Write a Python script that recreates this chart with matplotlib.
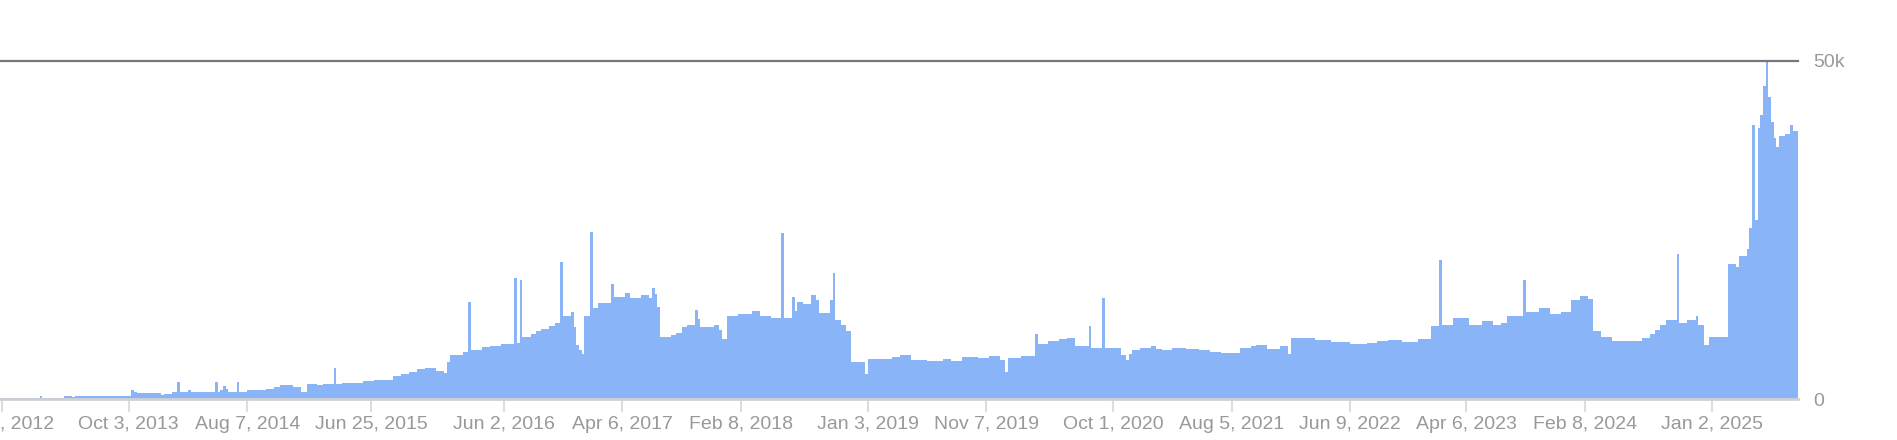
import matplotlib
matplotlib.use('Agg')

from matplotlib import pyplot as plt
import numpy as np
import pandas as pd

plt.rcParams['font.family'] = ['Liberation Sans', 'DejaVu Sans']

# weekly values (thousands), each entry holds until the next date
week_start = [
    '2012-10-04', '2013-02-14', '2013-02-21', '2013-04-18', '2013-05-09', '2013-05-16',
    '2013-05-23', '2013-10-10', '2013-10-17', '2013-10-24', '2013-12-26', '2014-01-02',
    '2014-01-23', '2014-02-06', '2014-02-13', '2014-03-06', '2014-03-13', '2014-05-15',
    '2014-05-22', '2014-05-29', '2014-06-05', '2014-06-12', '2014-06-19', '2014-07-10',
    '2014-07-17', '2014-08-07', '2014-09-25', '2014-10-16', '2014-10-30', '2014-12-04',
    '2014-12-25', '2015-01-08', '2015-02-05', '2015-02-19', '2015-03-19', '2015-03-26',
    '2015-04-09', '2015-05-07', '2015-06-04', '2015-07-02', '2015-08-20', '2015-09-10',
    '2015-10-01', '2015-10-22', '2015-11-12', '2015-12-10', '2015-12-31', '2016-01-07',
    '2016-01-14', '2016-02-18', '2016-03-03', '2016-03-10', '2016-04-07', '2016-04-28',
    '2016-05-26', '2016-06-30', '2016-07-07', '2016-07-14', '2016-07-21', '2016-08-11',
    '2016-08-25', '2016-09-08', '2016-09-29', '2016-10-13', '2016-10-27', '2016-11-03',
    '2016-11-24', '2016-12-01', '2016-12-08', '2016-12-15', '2016-12-22', '2016-12-29',
    '2017-01-12', '2017-01-19', '2017-02-02', '2017-03-09', '2017-03-16', '2017-04-13',
    '2017-04-27', '2017-05-25', '2017-06-15', '2017-06-22', '2017-06-29', '2017-07-06',
    '2017-07-13', '2017-08-10', '2017-08-24', '2017-09-07', '2017-09-21', '2017-10-12',
    '2017-10-19', '2017-10-26', '2017-11-30', '2017-12-14', '2017-12-21', '2018-01-04',
    '2018-02-01', '2018-03-08', '2018-03-29', '2018-04-26', '2018-05-24', '2018-05-31',
    '2018-06-21', '2018-06-28', '2018-07-05', '2018-07-19', '2018-08-09', '2018-08-23',
    '2018-08-30', '2018-09-27', '2018-10-04', '2018-10-11', '2018-10-25', '2018-11-08',
    '2018-11-22', '2018-12-27', '2019-01-03', '2019-03-07', '2019-03-28', '2019-04-25',
    '2019-06-06', '2019-07-18', '2019-08-08', '2019-09-05', '2019-10-17', '2019-11-14',
    '2019-12-12', '2019-12-26', '2020-01-02', '2020-02-06', '2020-03-12', '2020-03-19',
    '2020-04-16', '2020-05-14', '2020-06-04', '2020-06-25', '2020-07-30', '2020-08-06',
    '2020-09-03', '2020-09-10', '2020-10-22', '2020-11-05', '2020-11-12', '2020-11-19',
    '2020-12-10', '2021-01-07', '2021-01-21', '2021-02-04', '2021-03-04', '2021-04-08',
    '2021-05-13', '2021-06-10', '2021-07-08', '2021-08-26', '2021-09-23', '2021-10-07',
    '2021-11-04', '2021-12-09', '2021-12-30', '2022-01-06', '2022-03-10', '2022-04-21',
    '2022-06-09', '2022-07-21', '2022-08-18', '2022-09-15', '2022-10-20', '2022-12-01',
    '2023-01-05', '2023-01-26', '2023-02-02', '2023-03-02', '2023-04-13', '2023-05-18',
    '2023-06-15', '2023-07-06', '2023-07-20', '2023-08-31', '2023-09-07', '2023-10-12',
    '2023-11-09', '2023-12-07', '2024-01-04', '2024-01-25', '2024-02-15', '2024-02-29',
    '2024-03-21', '2024-04-18', '2024-07-04', '2024-07-25', '2024-08-08', '2024-08-22',
    '2024-09-05', '2024-10-03', '2024-10-10', '2024-10-31', '2024-11-21', '2024-11-28',
    '2024-12-12', '2024-12-26', '2025-02-13', '2025-03-06', '2025-03-13', '2025-04-03',
    '2025-04-10', '2025-04-17', '2025-04-24', '2025-05-01', '2025-05-08', '2025-05-15',
    '2025-05-22', '2025-05-29', '2025-06-05', '2025-06-12', '2025-06-19', '2025-06-26',
    '2025-07-10', '2025-07-24', '2025-07-31', '2025-08-07',
]
users_k = [
    0.15, 0.45, 0.15, 0.45, 0.25, 0.45,
    0.5, 1.3, 1.0, 0.85, 0.6, 0.75,
    1.0, 2.5, 1.0, 1.3, 1.0, 2.5,
    1.0, 1.4, 1.9, 1.5, 1.1, 2.5,
    1.1, 1.3, 1.5, 1.8, 2.0, 1.8,
    1.1, 2.2, 2.0, 2.2, 4.6, 2.2,
    2.3, 2.4, 2.6, 2.8, 3.4, 3.7,
    4.0, 4.5, 4.6, 4.2, 3.9, 5.5,
    6.5, 7.0, 14.3, 7.2, 7.7, 7.9,
    8.1, 17.9, 8.3, 17.6, 9.2, 9.6,
    10.0, 10.4, 10.8, 11.2, 20.3, 12.2,
    12.9, 10.7, 8.0, 7.3, 6.7, 12.2,
    24.7, 13.5, 14.2, 17.0, 15.1, 15.6,
    15.0, 15.4, 14.9, 16.4, 15.5, 13.6,
    9.1, 9.5, 9.8, 10.6, 11.0, 13.2,
    11.8, 10.7, 10.9, 10.2, 8.8, 12.2,
    12.6, 13.0, 12.3, 12.0, 24.6, 12.0,
    15.1, 13.0, 14.4, 14.1, 15.4, 14.6,
    12.7, 14.6, 18.6, 11.7, 11.0, 10.0,
    5.5, 3.7, 5.9, 6.2, 6.5, 5.8,
    5.6, 5.9, 5.6, 6.2, 6.0, 6.3,
    5.8, 4.0, 6.0, 6.3, 9.6, 8.2,
    8.5, 8.8, 9.0, 7.8, 10.8, 7.5,
    14.9, 7.5, 6.5, 5.8, 6.6, 7.3,
    7.6, 7.8, 7.4, 7.2, 7.6, 7.4,
    7.2, 7.0, 6.8, 7.5, 7.8, 8.0,
    7.4, 7.8, 6.7, 9.0, 8.7, 8.4,
    8.1, 8.3, 8.6, 8.7, 8.4, 8.9,
    10.8, 20.5, 10.9, 11.9, 10.9, 11.5,
    11.0, 11.2, 12.3, 17.6, 12.9, 13.4,
    12.5, 12.9, 14.6, 15.2, 14.8, 10.0,
    9.2, 8.6, 9.0, 9.6, 10.2, 11.0,
    11.7, 21.4, 11.2, 11.7, 12.2, 11.0,
    8.0, 9.2, 19.9, 19.5, 21.1, 22.1,
    25.3, 40.5, 26.5, 40.0, 42.0, 46.2,
    50.0, 44.7, 41.0, 38.6, 37.3, 38.9,
    39.1, 40.5, 39.6, 39.6,
]

tick_dates = ['2012-11-08', '2013-10-03', '2014-08-07', '2015-06-25', '2016-06-02',
              '2017-04-06', '2018-02-08', '2019-01-03', '2019-11-07', '2020-10-01',
              '2021-08-05', '2022-06-09', '2023-04-06', '2024-02-08', '2025-01-02']
tick_labels = ['Nov 8, 2012', 'Oct 3, 2013', 'Aug 7, 2014', 'Jun 25, 2015', 'Jun 2, 2016',
               'Apr 6, 2017', 'Feb 8, 2018', 'Jan 3, 2019', 'Nov 7, 2019', 'Oct 1, 2020',
               'Aug 5, 2021', 'Jun 9, 2022', 'Apr 6, 2023', 'Feb 8, 2024', 'Jan 2, 2025']

y_ticks = [0, 50000]
y_labels = ['0', '50k']

assert len(week_start) == len(users_k)

dates = pd.to_datetime(week_start)
vals = np.array(users_k) * 1000
# close the last week
edges = dates.append(pd.DatetimeIndex([dates[-1] + pd.Timedelta(days=7)]))
vals_e = np.append(vals, vals[-1])

fig = plt.figure(figsize=(18.97, 4.40), dpi=100)
ax = fig.add_axes([0, 41 / 440, 1798 / 1897, 338.3 / 440])

ax.fill_between(edges, vals_e, step='post', color='#8ab4f8', lw=0, zorder=2)
ax.axhline(50000, color='#777777', lw=1.6, zorder=3, clip_on=False)

ax.set_xlim(pd.Timestamp('2012-11-03'), edges[-1])
ax.set_ylim(0, 50000)

ax.set_xticks(pd.to_datetime(tick_dates))
ax.set_xticklabels(tick_labels)
ax.tick_params(axis='x', length=9, width=1.5, color='#dddddd', labelcolor='#999999',
               labelsize=14, pad=3)

ax.yaxis.tick_right()
ax.set_yticks(y_ticks)
ax.set_yticklabels(y_labels)
ax.tick_params(axis='y', length=0, labelcolor='#999999', labelsize=14, pad=11)

for s in ['top', 'left', 'right']:
    ax.spines[s].set_visible(False)
ax.spines['bottom'].set_color('#d0d0d0')
ax.spines['bottom'].set_linewidth(2)

plt.savefig('out.png', dpi=100)
plt.close()
